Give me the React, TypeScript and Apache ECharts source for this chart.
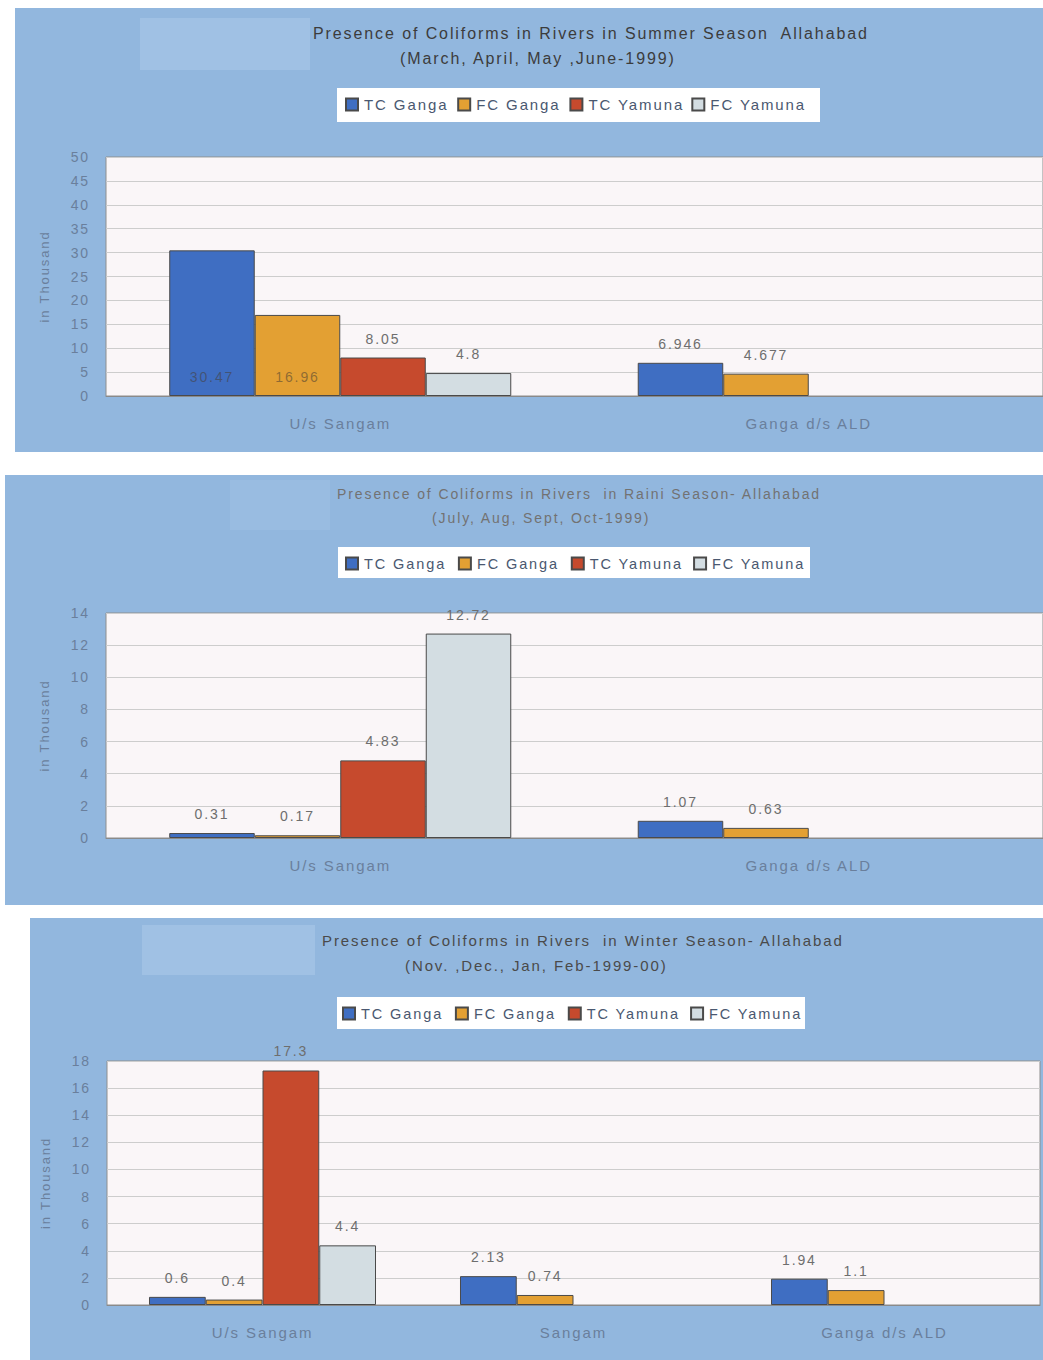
import React, { useEffect, useRef } from "react";
import * as echarts from "echarts";

// Sampling stations
const twoStations = ["U/s Sangam", "Ganga d/s ALD"];
const threeStations = ["U/s Sangam", "Sangam", "Ganga d/s ALD"];

// Series (coliform counts, in thousand)
const seriesNames = ["TC Ganga", "FC Ganga", "TC Yamuna", "FC Yamuna"];
const seriesColors = ["#3f6ec2", "#e3a033", "#c64a2d", "#d3dde2"];

// Summer season (March–June 1999)
const summerTCGanga = [30.47, 6.946];
const summerFCGanga = [16.96, 4.677];
const summerTCYamuna = [8.05, null];
const summerFCYamuna = [4.8, null];

// Rainy season (July–October 1999)
const rainyTCGanga = [0.31, 1.07];
const rainyFCGanga = [0.17, 0.63];
const rainyTCYamuna = [4.83, null];
const rainyFCYamuna = [12.72, null];

// Winter season (November 1999 – February 2000)
const winterTCGanga = [0.6, 2.13, 1.94];
const winterFCGanga = [0.4, 0.74, 1.1];
const winterTCYamuna = [17.3, null, null];
const winterFCYamuna = [4.4, null, null];

const FONT = "'Liberation Sans', Arial, sans-serif";
const AXIS_TEXT = "#6a7f9c";

type Panel = {
  title1: string;
  title2: string;
  cats: string[];
  values: (number | null)[][];
  max: number;
  interval: number;
};

const panels: Panel[] = [
  {
    title1: "Presence of Coliforms in Rivers in Summer Season  Allahabad",
    title2: "(March, April, May ,June-1999)",
    cats: twoStations,
    values: [summerTCGanga, summerFCGanga, summerTCYamuna, summerFCYamuna],
    max: 50,
    interval: 5,
  },
  {
    title1: "Presence of Coliforms in Rivers  in Raini Season- Allahabad",
    title2: "(July, Aug, Sept, Oct-1999)",
    cats: twoStations,
    values: [rainyTCGanga, rainyFCGanga, rainyTCYamuna, rainyFCYamuna],
    max: 14,
    interval: 2,
  },
  {
    title1: "Presence of Coliforms in Rivers  in Winter Season- Allahabad",
    title2: "(Nov. ,Dec., Jan, Feb-1999-00)",
    cats: threeStations,
    values: [winterTCGanga, winterFCGanga, winterTCYamuna, winterFCYamuna],
    max: 18,
    interval: 2,
  },
];

// Layout of the three panels on the page
const layout = [
  {
    bg: { x: 15, y: 8, w: 1028, h: 444 },
    glow: { x: 140, y: 18, w: 170, h: 52, o: 0.75 },
    grid: { left: 106, top: 157, width: 937, height: 239 },
    t1: { left: 313, top: 25, size: 16, color: "#3c3c3c" },
    t2: { left: 400, top: 50, size: 16, color: "#3c3c3c" },
    legendBox: { x: 337, y: 88, w: 483, h: 34 },
    legend: { left: 345, top: 97, size: 15, gap: 24 },
  },
  {
    bg: { x: 5, y: 475, w: 1038, h: 430 },
    glow: { x: 230, y: 480, w: 100, h: 50, o: 0.4 },
    grid: { left: 106, top: 613, width: 937, height: 225 },
    t1: { left: 337, top: 487, size: 14, color: "#727272" },
    t2: { left: 432, top: 511, size: 14, color: "#727272" },
    legendBox: { x: 338, y: 547, w: 472, h: 31 },
    legend: { left: 345, top: 556, size: 14.5, gap: 27 },
  },
  {
    bg: { x: 30, y: 918, w: 1013, h: 442 },
    glow: { x: 142, y: 925, w: 173, h: 50, o: 0.75 },
    grid: { left: 107, top: 1061, width: 933, height: 244 },
    t1: { left: 322, top: 933, size: 15, color: "#4a4a4a" },
    t2: { left: 405, top: 958, size: 15, color: "#4a4a4a" },
    legendBox: { x: 337, y: 997, w: 468, h: 32 },
    legend: { left: 342, top: 1006, size: 14.5, gap: 27 },
  },
];

function buildOption() {
  const graphic: any[] = [];
  const title: any[] = [];
  const grid: any[] = [];
  const xAxis: any[] = [];
  const yAxis: any[] = [];
  const legend: any[] = [];
  const series: any[] = [];

  panels.forEach((p, i) => {
    const L = layout[i];
    graphic.push({
      type: "rect",
      z: -10,
      shape: { x: L.bg.x, y: L.bg.y, width: L.bg.w, height: L.bg.h },
      style: { fill: "#92b7de" },
    });
    graphic.push({
      type: "rect",
      z: -9,
      shape: { x: L.glow.x, y: L.glow.y, width: L.glow.w, height: L.glow.h },
      style: { fill: "#a4c4e6", opacity: L.glow.o },
    });
    // white box behind the legend
    graphic.push({
      type: "rect",
      z: -8,
      shape: { x: L.legendBox.x, y: L.legendBox.y, width: L.legendBox.w, height: L.legendBox.h },
      style: { fill: "#ffffff" },
    });

    title.push({
      text: p.title1,
      left: L.t1.left,
      top: L.t1.top,
      padding: 0,
      textStyle: { fontFamily: FONT, fontSize: L.t1.size, fontWeight: "normal", color: L.t1.color },
    });
    title.push({
      text: p.title2,
      left: L.t2.left,
      top: L.t2.top,
      padding: 0,
      textStyle: { fontFamily: FONT, fontSize: L.t2.size, fontWeight: "normal", color: L.t2.color },
    });

    legend.push({
      left: L.legend.left,
      top: L.legend.top,
      data: seriesNames,
      padding: 0,
      itemWidth: 12,
      itemHeight: 12,
      itemGap: L.legend.gap,
      icon: "rect",
      textStyle: { fontFamily: FONT, fontSize: L.legend.size, color: "#4a5870", padding: [0, 0, 0, 1] },
    });

    grid.push({
      ...L.grid,
      show: true,
      backgroundColor: "#faf6f8",
      borderColor: "#8e8e8e",
      borderWidth: 1,
      containLabel: false,
    });

    xAxis.push({
      type: "category",
      gridIndex: i,
      data: p.cats,
      axisTick: { show: false },
      axisLine: { show: true, lineStyle: { color: "#8a8a8a" } },
      axisLabel: { fontFamily: FONT, fontSize: 15, color: AXIS_TEXT, margin: 20, interval: 0 },
    });

    yAxis.push({
      type: "value",
      gridIndex: i,
      min: 0,
      max: p.max,
      interval: p.interval,
      name: "in Thousand",
      nameLocation: "middle",
      nameGap: 55,
      nameTextStyle: { fontFamily: FONT, fontSize: 13, color: AXIS_TEXT },
      axisLine: { show: false },
      axisTick: { show: false },
      axisLabel: { fontFamily: FONT, fontSize: 14, color: AXIS_TEXT, margin: 16 },
      splitLine: { lineStyle: { color: "#cdcdcd", width: 1 } },
    });

    p.values.forEach((vals, s) => {
      series.push({
        type: "bar",
        name: seriesNames[s],
        xAxisIndex: i,
        yAxisIndex: i,
        barGap: "0%",
        barCategoryGap: "27%",
        itemStyle: { color: seriesColors[s], borderColor: "#4a4a4a", borderWidth: 1 },
        label: {
          show: true,
          position: "top",
          distance: 12,
          fontFamily: FONT,
          fontSize: 14,
          color: "#6e6e6e",
        },
        data: vals.map((v, c) => {
          if (v === null) return "-";
          // In the summer panel the tall Ganga bars carry their value inside, near the base
          if (i === 0 && c === 0 && s < 2) {
            return {
              value: v,
              label: { position: "insideBottom", distance: 12, color: "rgba(70,60,50,0.55)" },
            };
          }
          return v;
        }),
      });
    });
  });

  return {
    animation: false,
    backgroundColor: "#ffffff",
    graphic,
    title,
    legend,
    grid,
    xAxis,
    yAxis,
    series,
  };
}

export default function App() {
  const ref = useRef<HTMLDivElement>(null);

  useEffect(() => {
    document.body.style.margin = "0";
    if (!ref.current) return;
    const chart = echarts.init(ref.current, null, { renderer: "svg" });
    chart.setOption(buildOption());
    return () => chart.dispose();
  }, []);

  return (
    <div
      ref={ref}
      style={{
        position: "absolute",
        left: 0,
        top: 0,
        width: 1043,
        height: 1360,
        // the printed charts use widely tracked lettering
        letterSpacing: "1.9px",
      }}
    />
  );
}
